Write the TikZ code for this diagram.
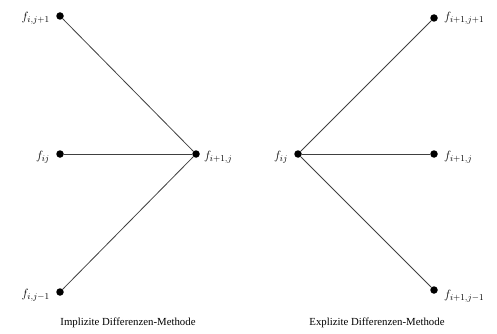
\documentclass[tikz,border=0pt]{standalone}
\usepackage{fontspec}
\setmainfont{Liberation Serif}
\begin{document}
\begin{tikzpicture}[x=1pt,y=-1pt,
  dot/.style={circle,fill=black,inner sep=0pt,minimum size=7.5pt},
  link/.style={draw=black!75,line width=0.8pt},
  lab/.style={font=\fontsize{12.5}{14}\selectfont,inner sep=1pt},
  captext/.style={font=\fontsize{10.8}{12}\selectfont}]
\useasboundingbox (0,0) rectangle (497,334);
% left diagram
\node[dot] (lt) at (60,16) {};
\node[dot] (lm) at (60,154) {};
\node[dot] (lb) at (60,292) {};
\node[dot] (lh) at (196,154) {};
\draw[link] (lt) -- (lh);
\draw[link] (lm) -- (lh);
\draw[link] (lb) -- (lh);
\node[lab,anchor=east] (llt) at (51,18) {$f_{i,j+1}$};
\node[lab,anchor=east] (llm) at (51,157) {$f_{ij}$};
\node[lab,anchor=east] (llb) at (51,295) {$f_{i,j-1}$};
\node[lab,anchor=west] (llh) at (203,157) {$f_{i+1,j}$};
\node[captext] (capl) at (128,323) {Implizite Differenzen-Methode};
% right diagram
\node[dot] (rh) at (298,154) {};
\node[dot] (rt) at (434,18) {};
\node[dot] (rm) at (434,154) {};
\node[dot] (rb) at (434,290) {};
\draw[link] (rh) -- (rt);
\draw[link] (rh) -- (rm);
\draw[link] (rh) -- (rb);
\node[lab,anchor=east] (lrh) at (289,157) {$f_{ij}$};
\node[lab,anchor=west] (lrt) at (443,18) {$f_{i+1,j+1}$};
\node[lab,anchor=west] (lrm) at (443,157) {$f_{i+1,j}$};
\node[lab,anchor=west] (lrb) at (443,296) {$f_{i+1,j-1}$};
\node[captext] (capr) at (377,323) {Explizite Differenzen-Methode};
\end{tikzpicture}
\end{document}
